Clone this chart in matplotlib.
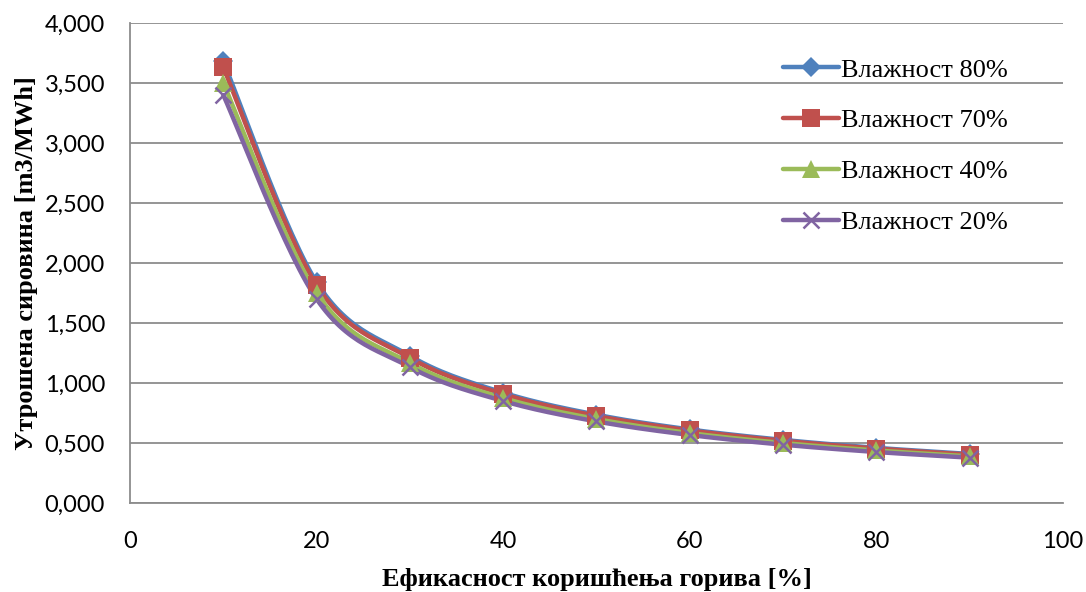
import matplotlib
matplotlib.use('Agg')
import matplotlib.pyplot as plt
import numpy as np
from matplotlib.ticker import FuncFormatter

# Values
efikasnost = [10, 20, 30, 40, 50, 60, 70, 80, 90]
vl80 = [3.68, 1.84, 1.227, 0.920, 0.736, 0.613, 0.526, 0.460, 0.409]
vl70 = [3.63, 1.815, 1.210, 0.908, 0.726, 0.605, 0.519, 0.454, 0.403]
vl40 = [3.50, 1.750, 1.167, 0.875, 0.700, 0.583, 0.500, 0.438, 0.389]
vl20 = [3.40, 1.700, 1.133, 0.850, 0.680, 0.567, 0.486, 0.425, 0.378]
labels = ['Влажност 80%', 'Влажност 70%', 'Влажност 40%', 'Влажност 20%']
colors = ['#4F81BD', '#C0504D', '#9BBB59', '#8064A2']
markers = ['D', 's', '^', 'x']
msizes = [10, 13, 13, 11]


def smooth(x, y, n=30):
    # Excel-like smoothed line (Bezier segments through the points)
    x = np.asarray(x, float)
    y = np.asarray(y, float)
    px, py = [], []
    for i in range(len(x) - 1):
        x0, y0 = (x[i - 1], y[i - 1]) if i > 0 else (x[i], y[i])
        x3, y3 = (x[i + 2], y[i + 2]) if i + 2 < len(x) else (x[i + 1], y[i + 1])
        c1x = x[i] + (x[i + 1] - x0) / 6
        c1y = y[i] + (y[i + 1] - y0) / 6
        c2x = x[i + 1] - (x3 - x[i]) / 6
        c2y = y[i + 1] - (y3 - y[i]) / 6
        t = np.linspace(0, 1, n)
        bx = (1 - t) ** 3 * x[i] + 3 * (1 - t) ** 2 * t * c1x + 3 * (1 - t) * t ** 2 * c2x + t ** 3 * x[i + 1]
        by = (1 - t) ** 3 * y[i] + 3 * (1 - t) ** 2 * t * c1y + 3 * (1 - t) * t ** 2 * c2y + t ** 3 * y[i + 1]
        px.extend(bx)
        py.extend(by)
    return px, py


plt.rcParams['font.family'] = 'Liberation Serif'

fig = plt.figure(figsize=(10.86, 5.92), dpi=100)
ax = fig.add_axes([0.1197, 0.1503, 0.8591, 0.8108])

series = [vl80, vl70, vl40, vl20]
for vals, lab, col, mk, ms in zip(series, labels, colors, markers, msizes):
    mew = 1.8 if mk == 'x' else 0
    sx, sy = smooth(efikasnost, vals)
    ax.plot(sx, sy, color=col, lw=3.2, solid_capstyle='round', zorder=3)
    ax.plot(efikasnost, vals, ls='none', marker=mk, color=col, ms=ms, mew=mew, zorder=4)
    ax.plot([], [], color=col, lw=3.2, solid_capstyle='round', marker=mk, ms=ms, mew=mew, label=lab)

ax.set_xlim(0, 100)
ax.set_ylim(0, 4)
ax.set_xticks(np.arange(0, 101, 20))
ax.set_yticks(np.arange(0, 4.01, 0.5))
ax.yaxis.set_major_formatter(FuncFormatter(lambda v, p: f'{v:,.3f}'.replace('.', ',')))
ax.grid(axis='y', color='#8C8C8C', lw=1.3, zorder=0)
for s in ['top', 'right']:
    ax.spines[s].set_visible(False)
for s in ['left', 'bottom']:
    ax.spines[s].set_color('#8C8C8C')
    ax.spines[s].set_linewidth(1.3)
ax.tick_params(axis='x', length=0, pad=20)
ax.tick_params(axis='y', length=0, pad=18)
for t in ax.get_xticklabels() + ax.get_yticklabels():
    t.set_fontfamily('Lato')
    t.set_fontsize(17)

ax.set_xlabel('Ефикасност коришћења горива [%]', fontsize=19, fontweight='bold', labelpad=12)
ax.set_ylabel('Утрошена сировина [m3/MWh]', fontsize=19, fontweight='bold', labelpad=5)

ax.legend(loc='upper left', bbox_to_anchor=(0.689, 0.949), frameon=False, fontsize=19,
          handlelength=2.1, labelspacing=1.04, handletextpad=0.1, borderaxespad=0)

fig.savefig('out.png', dpi=100)
